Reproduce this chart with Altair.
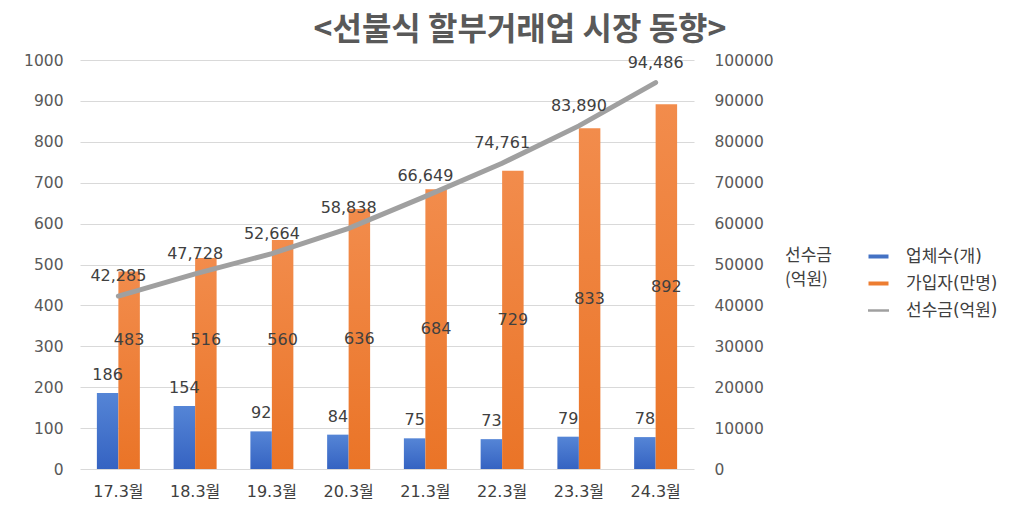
import altair as alt
import pandas as pd

months = ["17.3월", "18.3월", "19.3월", "20.3월", "21.3월", "22.3월", "23.3월", "24.3월"]
companies = [186, 154, 92, 84, 75, 73, 79, 78]
members = [483, 516, 560, 636, 684, 729, 833, 892]
prepaid = [42285, 47728, 52664, 58838, 66649, 74761, 83890, 94486]
series = ["업체수(개)", "가입자(만명)", "선수금(억원)"]
colors = ["#4472C4", "#ED7D31", "#A0A0A0"]
left_ticks = list(range(0, 1001, 100))
right_ticks = list(range(0, 100001, 10000))

FONT = "Noto Sans CJK KR"
NUMFONT = "DejaVu Sans, Noto Sans CJK KR"
TXT = "#404040"

bars_df = pd.DataFrame({
    "month": months * 2,
    "series": [series[0]] * len(months) + [series[1]] * len(months),
    "value": companies + members,
})
line_df = pd.DataFrame({"month": months, "prepaid": prepaid})
legend_df = pd.DataFrame({"series": series})

x_enc = alt.X(
    "month:N", sort=months,
    scale=alt.Scale(paddingInner=0.44, paddingOuter=0.22),
    axis=alt.Axis(title=None, labelAngle=0, labelFont=NUMFONT, labelFontSize=16,
                  labelColor=TXT, labelPadding=14, domain=False, ticks=False, grid=False),
)
xoff = alt.XOffset("series:N", scale=alt.Scale(domain=series[:2]))
left_scale = alt.Scale(domain=[0, 1000], nice=False)
left_axis = alt.Axis(title=None, values=left_ticks, format="d", labelFont=NUMFONT,
                     labelFontSize=15.5, labelColor="#595959", labelPadding=17, domain=False,
                     ticks=False, grid=True, gridColor="#D9D9D9", gridWidth=1)
y_left = alt.Y("value:Q", scale=left_scale, axis=left_axis)

blue_grad = alt.Gradient(gradient="linear", x1=0, y1=0, x2=0, y2=1,
                         stops=[alt.GradientStop(color="#5585D6", offset=0),
                                alt.GradientStop(color="#3563C2", offset=1)])
orange_grad = alt.Gradient(gradient="linear", x1=0, y1=0, x2=0, y2=1,
                           stops=[alt.GradientStop(color="#F28C4C", offset=0),
                                  alt.GradientStop(color="#EA7427", offset=1)])

base_bars = alt.Chart(bars_df)
blue_bar = base_bars.transform_filter(alt.datum.series == series[0]).mark_bar(
    color=blue_grad).encode(x=x_enc, xOffset=xoff, y=y_left)
orange_bar = base_bars.transform_filter(alt.datum.series == series[1]).mark_bar(
    color=orange_grad).encode(x=x_enc, xOffset=xoff, y=y_left)
blue_text = base_bars.transform_filter(alt.datum.series == series[0]).mark_text(
    font=NUMFONT, fontSize=16, color=TXT, baseline="middle", dy=-18).encode(
    x=x_enc, xOffset=xoff, y=y_left, text=alt.Text("value:Q", format="d"))
orange_text = base_bars.transform_filter(alt.datum.series == series[1]).transform_calculate(
    pos="max(315, datum.value / 2)").mark_text(
    font=NUMFONT, fontSize=16, color=TXT, baseline="middle").encode(
    x=x_enc, xOffset=xoff,
    y=alt.Y("pos:Q", scale=left_scale, axis=left_axis),
    text=alt.Text("value:Q", format="d"))
left = alt.layer(blue_bar, orange_bar, blue_text, orange_text)

y_right = alt.Y(
    "prepaid:Q", scale=alt.Scale(domain=[0, 100000], nice=False),
    axis=alt.Axis(title=None, orient="right", values=right_ticks, format="d", labelFont=NUMFONT,
                  labelFontSize=15.5, labelColor="#595959", labelPadding=20, domain=False,
                  ticks=False, grid=False),
)
line = alt.Chart(line_df).mark_line(color=colors[2], strokeWidth=5, strokeCap="round").encode(
    x=x_enc, y=y_right)
line_text = alt.Chart(line_df).mark_text(
    font=NUMFONT, fontSize=16, color=TXT, baseline="middle", dy=-20).encode(
    x=x_enc, y=y_right, text=alt.Text("prepaid:Q", format=","))
right = alt.layer(line, line_text)

rect_path = "M-2,-0.4H2V0.4H-2Z"
line_path = "M-2.1,-0.25H2.1V0.25H-2.1Z"
legend_layer = alt.Chart(legend_df).transform_filter("false").mark_point(
    filled=True, opacity=1, size=225).encode(
    color=alt.Color("series:N", scale=alt.Scale(domain=series, range=colors),
                    legend=alt.Legend(
                        title=["선수금", "(억원)"], titleOrient="left", orient="none",
                        legendX=705, legendY=188, titleFont=FONT, titleFontSize=17,
                        titleFontWeight="normal", titleColor=TXT, titlePadding=38,
                        titleLineHeight=24, titleAnchor="start",
                        labelFont=NUMFONT, labelFontSize=17, labelColor=TXT,
                        labelOffset=19, rowPadding=9, symbolStrokeWidth=0,
                        symbolOpacity=1)),
    shape=alt.Shape("series:N", scale=alt.Scale(domain=series,
                                                range=[rect_path, rect_path, line_path])),
)

chart = alt.layer(left, right, legend_layer).resolve_scale(
    y="independent"
).properties(
    width=614, height=409,
    background="white",
    autosize=alt.AutoSizeParams(type="none"),
    padding={"left": 72, "top": 52, "right": 310, "bottom": 30},
    title=alt.TitleParams(
        "<선불식 할부거래업 시장 동향>", font=FONT, fontSize=32, fontWeight="bold",
        color="#595959", anchor="middle", dx=133, offset=6),
).configure_view(stroke=None)

chart.save("out.html", embed_options={"renderer": "svg", "actions": False})
